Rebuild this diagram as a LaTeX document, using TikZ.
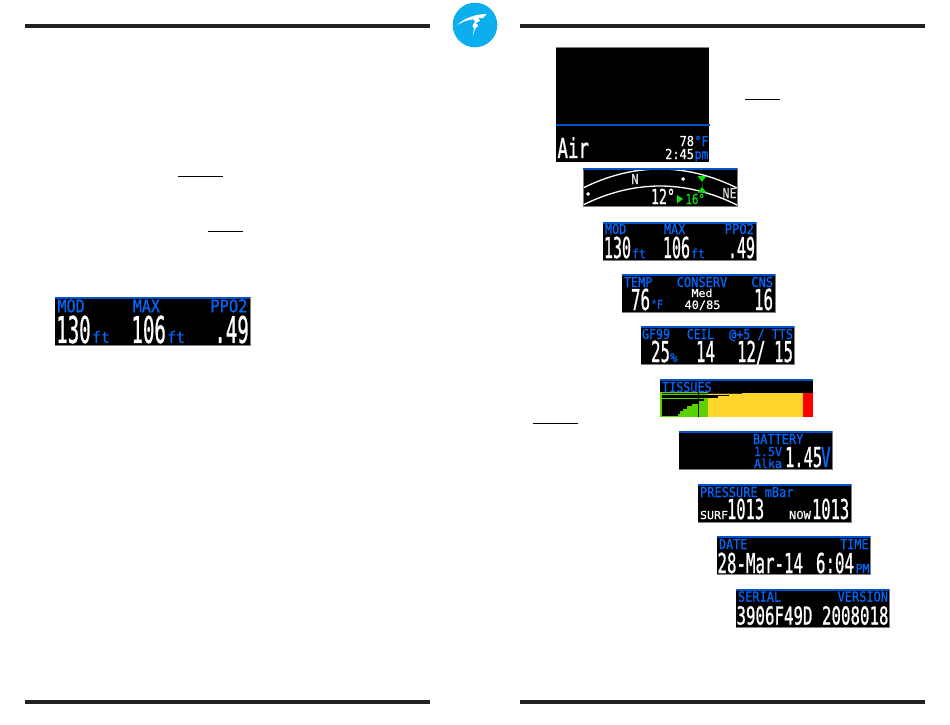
\documentclass[tikz,border=0pt]{standalone}
\usepackage{fontspec}
\setmonofont[FakeBold=0.5]{DejaVu Sans Mono}
\newfontfamily\oledbig[FakeBold=1.1]{DejaVu Sans Mono}
\definecolor{rulegray}{HTML}{222222}
\definecolor{oledblue}{HTML}{0068FF}
\definecolor{linkblue}{HTML}{0052CC}
\definecolor{logoblue}{HTML}{0CAEEE}
\definecolor{tisgreen}{HTML}{5BD200}
\definecolor{tisyellow}{HTML}{FFD52B}
\definecolor{mgreen}{HTML}{10E010}
\tikzset{
  rulebar/.style={fill=rulegray},
  underln/.style={draw=black,line width=1pt},
  panelbg/.style={fill=black},
  panelfoot/.style={draw=black!50,line width=0.6pt},
  paneltop/.style={draw=linkblue,line width=2pt},
  oled/.style={inner sep=0pt,outer sep=0pt,transform shape}
}
% name, x, y (baseline), anchor, colour, cap height, char advance, text
\newcommand{\T}[8]{%
  \pgfmathsetmacro\fsz{#6/0.729}%
  \pgfmathsetmacro\xsc{#7/(0.602*\fsz)}%
  \node[oled,anchor=#4,text=#5,xscale=\xsc,font=\ttfamily\ifdim #6pt>14pt\oledbig\fi\fontsize{\fsz pt}{\fsz pt}\selectfont] (#1) at (#2,#3) {#8};}
\newcommand{\panelbox}[2]{%
  \fill[panelbg] (#1,#2) rectangle ++(153,38);
  \draw[panelfoot] (#1,#2) ++(153,0) -- ++(0,38) -- ++(-153,0);
  \draw[paneltop] (#1,#2) ++(0,0.5) -- ++(153,0);}
\newcommand{\modpanel}{%
  \panelbox{0}{0}
  \T{lmod}{2}{12}{base west}{oledblue}{10}{7.1}{MOD}
  \T{lmax}{61}{12}{base west}{oledblue}{10}{7.1}{MAX}
  \T{lppo}{151}{12}{base east}{oledblue}{10}{7.3}{PPO2}
  \T{vmod}{1}{36}{base west}{white}{21}{9}{130}
  \T{umod}{29}{36}{base west}{oledblue}{9}{7}{ft}
  \T{vmax}{60}{36}{base west}{white}{21}{9}{106}
  \T{umax}{88}{36}{base west}{oledblue}{9}{7}{ft}
  \T{vppo}{152}{36}{base east}{white}{21}{9}{.49}
}
\begin{document}
\begin{tikzpicture}[x=1pt,y=-1pt]
\useasboundingbox (0,0) rectangle (950,725);
% page rules
\fill[rulebar] (25,24) rectangle (430,28);
\fill[rulebar] (520,24) rectangle (925,28);
\fill[rulebar] (25,700) rectangle (430,704);
\fill[rulebar] (520,700) rectangle (925,704);
% logo
\fill[logoblue] (475,25) circle (22.3);
\fill[white] (457.3,25) .. controls (464,18) and (476,14) .. (486.7,14)
  -- (482.7,18.3) -- (478.3,17.6) -- (480,20.7) -- (475.7,23.3) -- (478.3,25.3)
  -- (475,29.3) -- (472.7,36) -- (474,28.3) -- (472.3,26) -- (475,21.7) -- (473.3,19.3)
  .. controls (467,20) and (462,22) .. cycle;
% underlines
\draw[underln] (178,176.5) -- (223,176.5);
\draw[underln] (208,231.5) -- (243,231.5);
\draw[underln] (745,99.5) -- (780,99.5);
\draw[underln] (533,423.5) -- (578,423.5);
% main screen
\fill[panelbg] (556,47) rectangle (709,162);
\draw[black!50,line width=0.6pt] (556,47) -- (709,47);
\draw[paneltop] (556,125) -- (709.5,125);
\T{air}{557.5}{158}{base west}{white}{20}{10.5}{Air}
\T{tmpv}{694}{146}{base east}{white}{10}{7.2}{78}
\T{tmpu}{708.5}{146}{base east}{oledblue}{10}{7}{°F}
\T{timev}{694}{159}{base east}{white}{10}{7.2}{2:45}
\T{timeu}{708.5}{159}{base east}{oledblue}{10}{7}{pm}
% compass
\fill[panelbg] (583,168) rectangle (737,206.5);
\begin{scope}
  \clip (583,168) rectangle (737,206.5);
  \draw[white,line width=1.3pt] (583,188) .. controls (634,162.7) and (686,162.7) .. (737,188);
  \draw[white,line width=1.3pt] (583,205) .. controls (634,179.7) and (686,179.7) .. (737,205);
\end{scope}
\draw[black!50,line width=0.6pt] (583,168) -- (583,206.5) -- (737,206.5) -- (737,168);
\draw[paneltop] (583,168.5) -- (737,168.5);
\fill[white] (588,192) -- (590,194) -- (588,196) -- (586,194) -- cycle;
\fill[white] (683,177) -- (685,179) -- (683,181) -- (681,179) -- cycle;
\fill[mgreen] (697.5,176) -- (706.5,176) -- (702,182) -- cycle;
\fill[mgreen] (697.5,192.5) -- (706.5,192.5) -- (702,187) -- cycle;
\draw[black!60!mgreen,line width=1pt] (702,181) -- (702,188);
\T{cn}{635}{184}{base}{white!85!black}{10}{7.5}{N}
\T{cne}{736.5}{198}{base east}{white!85!black}{10}{7}{NE}
\T{chead}{651}{204}{base west}{white}{15}{8}{12°}
\fill[mgreen] (677,195) -- (683,199) -- (677,203.5) -- cycle;
\T{cdiff}{685.5}{204}{base west}{mgreen}{10}{6.5}{16°}
% MOD panel, right column
\begin{scope}[shift={(603,222)},name prefix=r-]
  \modpanel
\end{scope}
% MOD panel, left enlarged
\begin{scope}[shift={(55,297)},scale=1.275,name prefix=l-]
  \modpanel
\end{scope}
% TEMP
\panelbox{622}{274}
\T{ltemp}{624}{287}{base west}{oledblue}{10}{7.1}{TEMP}
\T{lcons}{702}{287}{base}{oledblue}{10}{7.2}{CONSERV}
\T{lcns}{773}{287}{base east}{oledblue}{10}{7.2}{CNS}
\T{vtemp}{631}{310}{base west}{white}{21}{9.5}{76}
\T{utemp}{651}{309}{base west}{oledblue}{9}{6}{°F}
\T{vmed}{702}{297}{base}{white}{8}{7}{Med}
\T{vgf}{702.5}{309}{base}{white}{8.5}{7.2}{40/85}
\T{vcns}{773}{310}{base east}{white}{21}{9.5}{16}
% GF
\panelbox{641}{326}
\T{lgf}{642}{339}{base west}{oledblue}{10}{7}{GF99}
\T{lceil}{700.5}{339}{base}{oledblue}{10}{6.8}{CEIL}
\T{ltts}{793}{339}{base east}{oledblue}{10}{7.1}{@+5 / TTS}
\T{vgfn}{651}{362}{base west}{white}{21}{9.5}{25}
\T{ugf}{670}{362}{base west}{oledblue}{9}{7.5}{\%}
\T{vceil}{715}{362}{base east}{white}{21}{9.5}{14}
\T{vat}{737}{362}{base west}{white}{21}{9.5}{12/}
\T{vtts}{793}{362}{base east}{white}{21}{9.5}{15}
% TISSUES
\fill[panelbg] (660,379) rectangle (813,417);
\fill[tisgreen] (660,392) rectangle (708,417);
\fill[tisyellow] (708,392.5) rectangle (803,417);
\fill[red] (803,392.5) rectangle (813,417);
\foreach \yy/\xx in {415/678,412.5/680,410/683,407.5/687,405/692,402.5/698,400/704}{
  \fill[black] (661.5,\yy-1.2) rectangle (\xx,\yy+1);
}
\fill[black] (661.5,396.4) rectangle (718,398.2);
\fill[black] (661.5,394.6) rectangle (729,395.9);
\fill[black!80!tisyellow] (661.5,393) rectangle (742,394.1);
\draw[black,line width=0.8pt] (698,392) -- (698,417);
\draw[paneltop] (660,379.5) -- (813,379.5);
\T{ltis}{662}{392}{base west}{oledblue}{10}{7.1}{TISSUES}
% BATTERY
\panelbox{679}{431}
\T{lbat}{753}{444}{base west}{oledblue}{10}{7.2}{BATTERY}
\T{lbat2}{782}{456}{base east}{oledblue}{9}{7}{1.5V}
\T{lbat3}{782}{468}{base east}{oledblue}{9}{7}{Alka}
\T{vbat}{785}{467}{base west}{white}{20}{9.3}{1.45}
\T{ubat}{821}{467}{base west}{oledblue}{20}{9.5}{V}
% PRESSURE
\panelbox{698}{484}
\T{lpres}{700}{497}{base west}{oledblue}{10}{7.2}{PRESSURE mBar}
\T{lsurf}{700}{519}{base west}{white}{8}{7}{SURF}
\T{vsurf}{727}{519}{base west}{white}{20}{9.3}{1013}
\T{lnow}{789}{519}{base west}{white}{8}{7.3}{NOW}
\T{vnow}{812}{519}{base west}{white}{20}{9.3}{1013}
% DATE
\panelbox{717}{536}
\T{ldate}{719}{549}{base west}{oledblue}{10}{7.1}{DATE}
\T{ltime}{868.5}{549}{base east}{oledblue}{10}{7.1}{TIME}
\T{vdate}{717.5}{573}{base west}{white}{20}{9.5}{28-Mar-14}
\T{vtime}{816}{573}{base west}{white}{20}{9.5}{6:04}
\T{upm}{869.5}{573}{base east}{oledblue}{9}{7}{PM}
% SERIAL
\panelbox{736}{589}
\T{lser}{738}{601.5}{base west}{oledblue}{10}{7.2}{SERIAL}
\T{lver}{888}{601.5}{base east}{oledblue}{10}{7.2}{VERSION}
\T{vser}{736.5}{624.5}{base west}{white}{18}{9.5}{3906F49D}
\T{vver}{888.5}{624.5}{base east}{white}{18}{9.5}{2008018}
\end{tikzpicture}
\end{document}
